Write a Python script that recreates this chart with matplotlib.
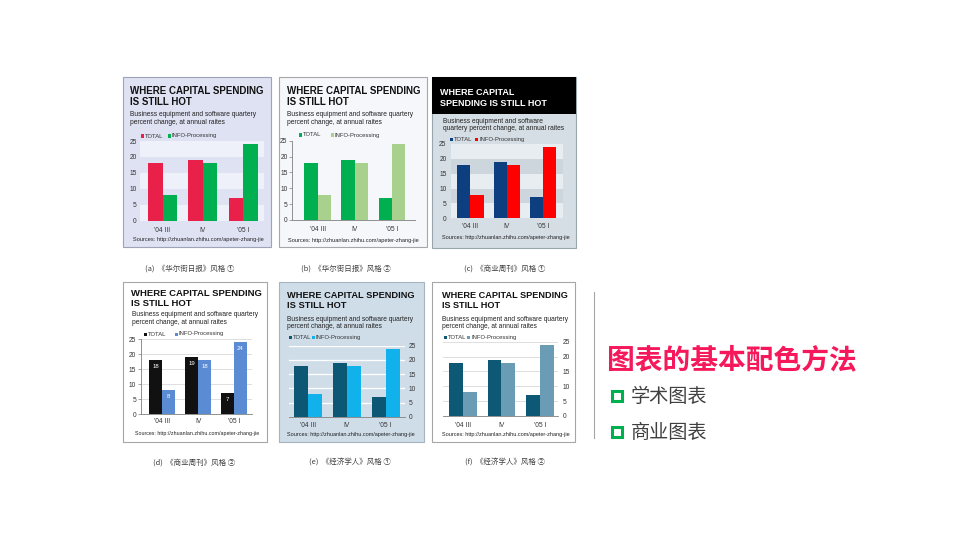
import matplotlib
matplotlib.use("Agg")
import matplotlib.pyplot as plt
import numpy as np
from matplotlib.patches import Rectangle
from matplotlib.lines import Line2D

plt.rcParams['font.family'] = ['Liberation Sans', 'Noto Sans CJK SC', 'DejaVu Sans']

# data
quarters = ["'04 III", "IV", "'05 I"]
total = [18, 19, 7]
info_processing = [8, 18, 24]
y_ticks = [0, 5, 10, 15, 20, 25]
legend_labels = ["TOTAL", "INFO-Processing"]
title_lines = ["WHERE CAPITAL SPENDING", "IS STILL HOT"]
sub_lines = ["Business equipment and software quartery", "percent change, at annual raites"]
source_text = "Sources: http://zhuanlan.zhihu.com/apeter-zhang-jie"
captions = ["(a)  《华尔街日报》风格 ①", "(b)  《华尔街日报》风格 ②", "(c)  《商业周刊》风格 ①",
            "(d)  《商业周刊》风格 ②", "(e)  《经济学人》风格 ①", "(f)  《经济学人》风格 ②"]
side_title = "图表的基本配色方法"
side_items = ["学术图表", "商业图表"]

W, H = 958, 537
fig = plt.figure(figsize=(W / 100, H / 100), dpi=100)
fig.patch.set_facecolor('white')


def fx(x):
    return x / W


def fy(y):
    return 1 - y / H


def txt(x, y, s, **kw):
    kw.setdefault('va', 'center')
    fig.text(fx(x), fy(y), s, **kw)


def rect(x0, y0, x1, y1, **kw):
    fig.add_artist(Rectangle((fx(x0), fy(y1)), (x1 - x0) / W, (y1 - y0) / H,
                             transform=fig.transFigure, **kw))


def panel(box, plot, xlim, c1, c2, bg='white', border='#a6a6a6', tx=0, ty=(0, 0), tsize=7,
          tcolor='#111111', tlines=title_lines, sx=0, sy=(0, 0), slines=sub_lines,
          ly=0, lx=(0, 0), srcx=0, srcy=0, srcsize=4.2, xpad=3.5, ypad=2.5,
          right=False, bands=None, grid=None, spines=(), ticklen=0, labels=False):
    rect(*box, facecolor=bg, edgecolor=border, lw=0.8, zorder=-1)
    ax = fig.add_axes([fx(plot[0]), fy(plot[3]), (plot[2] - plot[0]) / W, (plot[3] - plot[1]) / H])
    ax.set_facecolor('none')
    x = np.arange(len(quarters))
    w = 0.36
    ax.bar(x - w / 2, total, w, color=c1, zorder=3)
    ax.bar(x + w / 2, info_processing, w, color=c2, zorder=3)
    if labels:
        for i in range(len(quarters)):
            ax.text(x[i] - w / 2, total[i] - 2, str(total[i]), color='white', ha='center',
                    va='center', fontsize=4.3, zorder=4)
            ax.text(x[i] + w / 2, info_processing[i] - 2, str(info_processing[i]), color='white',
                    ha='center', va='center', fontsize=4.3, zorder=4)
    if bands:
        for k in range(5):
            ax.axhspan(k * 5, k * 5 + 5, color=bands[k % 2], zorder=0, lw=0)
    if grid:
        for v in y_ticks[1:]:
            ax.axhline(v, color=grid[0], lw=grid[1], zorder=1)
    ax.set_xlim(*xlim)
    ax.set_ylim(0, 25)
    ax.set_yticks(y_ticks)
    ax.set_xticks(x, quarters)
    for s in ax.spines:
        ax.spines[s].set_visible(s in spines)
        ax.spines[s].set_color('#7f7f7f')
        ax.spines[s].set_linewidth(0.6)
    if right:
        ax.yaxis.tick_right()
    ax.tick_params(axis='y', length=ticklen, width=0.5, color='#7f7f7f', labelsize=4.8,
                   pad=ypad, labelcolor='#333333')
    ax.tick_params(axis='x', length=0, labelsize=4.8, pad=xpad, labelcolor='#333333')
    txt(tx, ty[0], tlines[0], fontsize=tsize, weight='bold', color=tcolor)
    txt(tx, ty[1], tlines[1], fontsize=tsize, weight='bold', color=tcolor)
    txt(sx, sy[0], slines[0], fontsize=4.8, color='#222222')
    txt(sx, sy[1], slines[1], fontsize=4.8, color='#222222')
    for px, c, lab in zip(lx, (c1, c2), legend_labels):
        rect(px - 1.5, ly - 1.5, px + 1.5, ly + 1.5, facecolor=c, lw=0, zorder=5)
        txt(px + 2.5, ly, lab, fontsize=4.2, color='#333333')
    txt(srcx, srcy, source_text, fontsize=srcsize, color='#222222')
    return ax


# (a)
panel((123, 77, 271, 247), (140, 141, 264, 220.7), (-0.56, 2.52), '#e8204a', '#00b050',
      bg='#dfe2f3', border='#9ea3b8', tx=130, ty=(91, 101.7), tsize=7,
      sx=130, sy=(114.3, 122.7), ly=136, lx=(142.7, 169.3),
      srcx=132.7, srcy=239, srcsize=4.1, xpad=4.2, ypad=2.4, bands=('#eff1fa', '#dfe2f3'))
# (b)
panel((279, 77, 427, 247), (292, 140.7, 415, 220), (-0.69, 2.62), '#00b050', '#a9d18e',
      bg='#f6f7fb', tx=286.7, ty=(91, 101.7), tsize=7,
      sx=286.7, sy=(114.3, 122.7), ly=135, lx=(300, 332.3),
      srcx=288, srcy=240.7, srcsize=4.1, xpad=4.2, ypad=1.2,
      spines=('left', 'bottom'), ticklen=2)
# (c)
rect(432, 77, 576, 114, facecolor='black', lw=0, zorder=-0.5)
panel((432, 77, 576, 248), (450.7, 144, 563, 218.3), (-0.54, 2.54), '#0d3f80', '#ff0000',
      bg='#d5dee4', border='#9aa6ae', tx=440, ty=(92.3, 103.7), tsize=6.5, tcolor='white',
      tlines=["WHERE CAPITAL", "SPENDING IS STILL HOT"],
      sx=443, sy=(121.7, 129), slines=["Business equipment and software",
                                       "quartery percent change, at annual raites"],
      ly=139.3, lx=(451.7, 476.7), srcx=441.7, srcy=237.7, srcsize=4.0,
      xpad=3.2, ypad=3, bands=('#e7edf0', '#cdd6dc'))
# (d)
panel((123, 282, 267, 442), (140.7, 339.3, 251.7, 414.3), (-0.59, 2.49), '#111111', '#5b8bd3',
      tx=130.7, ty=(293.3, 303.3), tsize=6.8, sx=131.7, sy=(315, 322.7),
      ly=334, lx=(145, 176), srcx=135, srcy=433.3, srcsize=3.8, xpad=3, ypad=1.2,
      grid=('#d9d9d9', 0.6), spines=('left', 'bottom'), ticklen=2, labels=True)
# (e)
panel((279, 282, 424, 442), (289, 345.7, 405, 416.7), (-0.5, 2.5), '#0c5774', '#11b2eb',
      bg='#cfdde9', border='#a6b4c0', tx=286.7, ty=(296, 306), tsize=6.65,
      sx=286.7, sy=(319.3, 326), ly=337.3, lx=(290, 313.5),
      srcx=286.7, srcy=434.3, srcsize=4.0, xpad=3.6, ypad=2.5, right=True,
      grid=('white', 0.9), spines=('bottom',))
# (f)
panel((432, 282, 575, 442), (443, 341.7, 558, 416), (-0.52, 2.47), '#0d5975', '#6a9db5',
      tx=441.7, ty=(295.7, 305.7), tsize=6.6, sx=441.7, sy=(319.3, 326.7),
      ly=337.3, lx=(445, 468.5), srcx=441.7, srcy=434.3, srcsize=4.0,
      xpad=4, ypad=3.5, right=True, grid=('#d9d9d9', 0.6), spines=('bottom',))

# captions
cap_pos = [(190, 269), (346, 269), (505, 269), (194, 463), (350, 463), (505, 463)]
for (cx, cy), cap in zip(cap_pos, captions):
    txt(cx, cy, cap, fontsize=5.4, color='#404040', ha='center',
        family=['Noto Sans CJK SC', 'DejaVu Sans'])

# right side
fig.add_artist(Line2D([fx(594), fx(594)], [fy(292), fy(438)], transform=fig.transFigure,
                      color='#a6a6a6', lw=0.8))
txt(607, 360, side_title, fontsize=20, weight='bold', color='#f5185a',
    family=['Noto Sans CJK SC', 'DejaVu Sans'])
for yy, item in zip((396, 432), side_items):
    rect(611.5, yy - 5, 621.5, yy + 5, facecolor='white', edgecolor='#00b050', lw=2.2, zorder=5)
    txt(631, yy, item, fontsize=13.8, color='#404040', family=['Noto Sans CJK SC', 'DejaVu Sans'])

fig.savefig('out.png', dpi=100)
